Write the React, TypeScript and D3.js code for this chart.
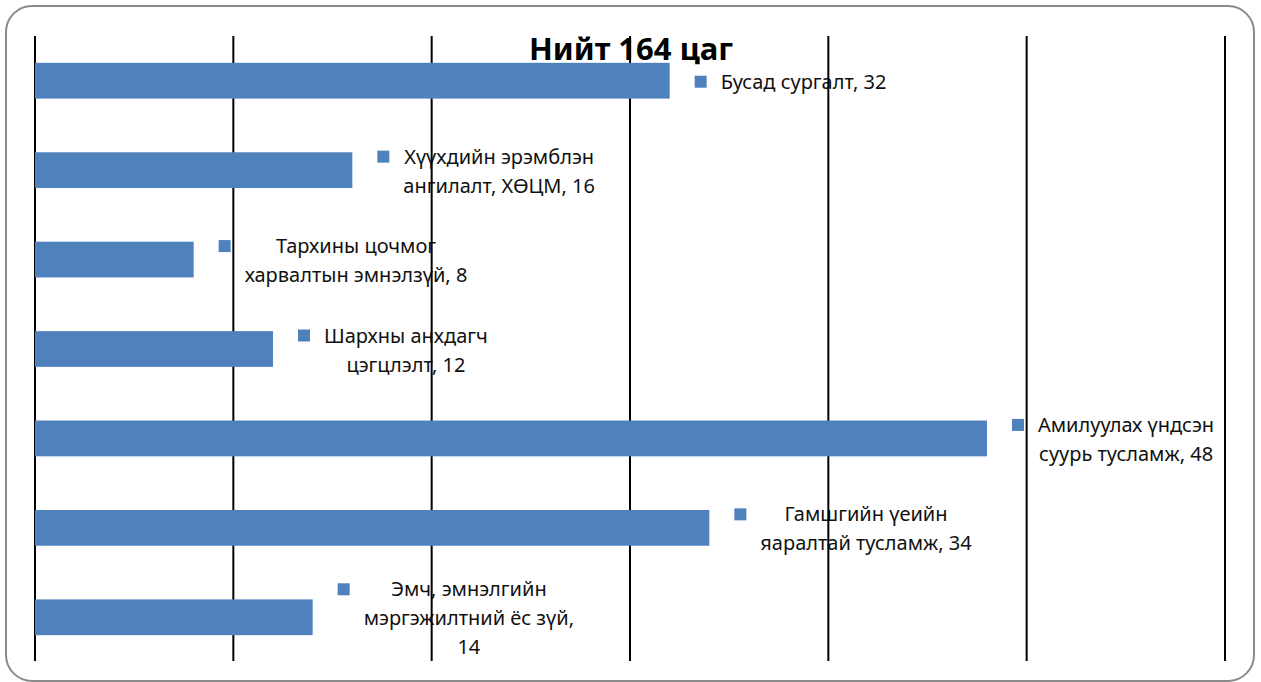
import React, { useEffect, useRef } from "react";
import * as d3 from "d3";

const categories = [
  "Бусад сургалт",
  "Хүүхдийн эрэмблэн ангилалт, ХӨЦМ",
  "Тархины цочмог харвалтын эмнэлзүй",
  "Шархны анхдагч цэгцлэлт",
  "Амилуулах үндсэн суурь тусламж",
  "Гамшгийн үеийн яаралтай тусламж",
  "Эмч, эмнэлгийн мэргэжилтний ёс зүй",
];
const values = [32, 16, 8, 12, 48, 34, 14];
const labelLines = [
  ["Бусад сургалт, 32"],
  ["Хүүхдийн эрэмблэн", "ангилалт, ХӨЦМ, 16"],
  ["Тархины цочмог", "харвалтын эмнэлзүй, 8"],
  ["Шархны анхдагч", "цэгцлэлт, 12"],
  ["Амилуулах үндсэн", "суурь тусламж, 48"],
  ["Гамшгийн үеийн", "яаралтай тусламж, 34"],
  ["Эмч, эмнэлгийн", "мэргэжилтний ёс зүй,", "14"],
];
const xTicks = [0, 10, 20, 30, 40, 50, 60];
const title = "Нийт 164 цаг";

const W = 1261;
const H = 682;
const barColor = "#4f81bd";

const App = () => {
  const ref = useRef<SVGSVGElement | null>(null);

  useEffect(() => {
    drawChart();
  }, []);

  const drawChart = () => {
    const svg = d3.select(ref.current);
    svg.selectAll("*").remove();

    const x = d3.scaleLinear().domain([0, 60]).range([35, 1225]);
    const y = d3.scaleBand().domain(categories).range([36, 662]);
    const barH = y.bandwidth() * 0.4;

    // rounded frame
    svg.append("rect")
      .attr("x", 6).attr("y", 6)
      .attr("width", 1248).attr("height", 675)
      .attr("rx", 26).attr("ry", 26)
      .attr("fill", "#fff")
      .attr("stroke", "#8a8a8a")
      .attr("stroke-width", 2);

    // title
    svg.append("text")
      .attr("x", 631).attr("y", 60)
      .attr("text-anchor", "middle")
      .attr("font-family", "'Noto Sans', sans-serif")
      .attr("font-weight", "bold")
      .attr("font-size", 31)
      .attr("fill", "#000")
      .text(title);

    // data labels: marker + centered wrapped lines
    const lineH = 29;
    const fontSize = 20;
    categories.forEach((c, i) => {
      const lines = labelLines[i];
      const cy = (y(c) as number) + y.bandwidth() / 2;
      const firstY = cy - ((lines.length - 1) * lineH) / 2;
      const mx = x(values[i]) + 25;
      const g = svg.append("g");
      g.append("rect")
        .attr("x", mx).attr("y", firstY - 5)
        .attr("width", 12).attr("height", 12)
        .attr("fill", barColor);
      const texts = lines.map((t, j) =>
        g.append("text")
          .attr("y", firstY + j * lineH + 8)
          .attr("font-family", "'Noto Sans', sans-serif")
          .attr("font-size", fontSize)
          .attr("fill", "#111")
          .text(t)
      );
      const widths = texts.map((t) => (t.node() as SVGTextElement).getComputedTextLength());
      const maxW = d3.max(widths) as number;
      const left = mx + 12 + 14;
      texts.forEach((t) => t.attr("x", left + maxW / 2).attr("text-anchor", "middle"));
    });

    // vertical gridlines
    svg.append("g")
      .selectAll("line")
      .data(xTicks)
      .enter()
      .append("line")
      .attr("x1", (d) => x(d)).attr("x2", (d) => x(d))
      .attr("y1", 36).attr("y2", 661)
      .attr("stroke", "#000")
      .attr("stroke-width", 2);

    // bars
    svg.append("g")
      .selectAll("rect")
      .data(values)
      .enter()
      .append("rect")
      .attr("x", x(0))
      .attr("y", (d, i) => (y(categories[i]) as number) + (y.bandwidth() - barH) / 2)
      .attr("width", (d) => x(d) - x(0))
      .attr("height", barH)
      .attr("fill", barColor);
  };

  return (
    <svg
      ref={ref}
      width={W}
      height={H}
      style={{ position: "absolute", left: 0, top: 0, display: "block" }}
    />
  );
};

export default App;
